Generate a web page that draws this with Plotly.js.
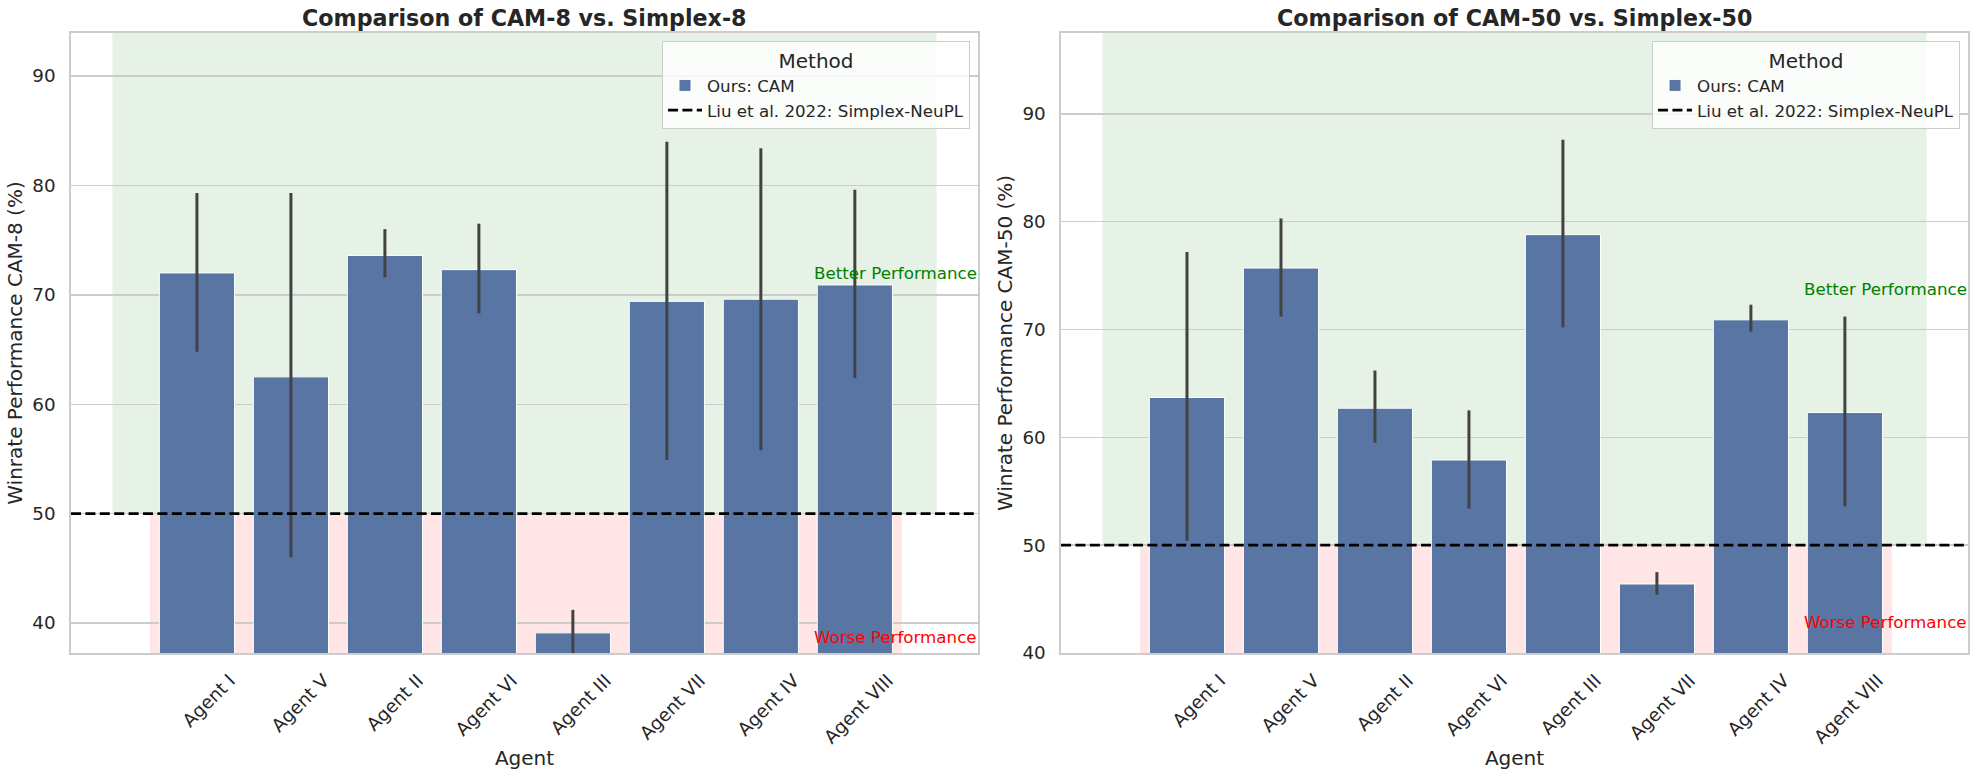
<!DOCTYPE html>
<html>
<head>
<meta charset="utf-8">
<script src="https://cdn.plot.ly/plotly-3.0.1.min.js"></script>
<style>
  html, body { margin: 0; padding: 0; background: #ffffff; }
  #chart { width: 1976px; height: 776px; }
</style>
</head>
<body>
<div id="chart"></div>
<script>
// ---------------- data ----------------
const agents = ['Agent I', 'Agent V', 'Agent II', 'Agent VI', 'Agent III', 'Agent VII', 'Agent IV', 'Agent VIII'];

const cam8      = [72.0, 62.5, 73.6, 72.3, 39.1, 69.4, 69.6, 70.9];
const cam8Low   = [64.8, 46.0, 71.6, 68.3, 37.0, 54.9, 55.8, 62.4];
const cam8High  = [79.3, 79.3, 76.0, 76.5, 41.2, 84.0, 83.4, 79.6];

const cam50     = [63.7, 75.7, 62.7, 57.9, 78.8, 46.4, 70.9, 62.3];
const cam50Low  = [50.4, 71.2, 59.5, 53.4, 70.2, 45.4, 69.8, 53.6];
const cam50High = [77.2, 80.3, 66.2, 62.5, 87.6, 47.5, 72.3, 71.2];

const simplexBaseline = 50;   // Liu et al. 2022: Simplex-NeuPL

const yTicks = [40, 50, 60, 70, 80, 90];

// ---------------- style ----------------
const FONT = 'DejaVu Sans';
const TXT = '#262626';
const GRID = '#cccccc';
const BAR = '#5875a4';
const ERR = '#424242';
const xRange = [-1.34, 8.31];
const yRange8 = [37.26, 93.93];
const yRange50 = [40, 97.5];
const greenX = [-0.9, 7.87];
const pinkX = [-0.5, 7.5];

const idx = agents.map((_, i) => i);

function barTrace(vals, lo, hi, xa, ya, leg) {
  return {
    type: 'bar', x: idx, y: vals, xaxis: xa, yaxis: ya, width: 0.8,
    name: 'Ours: CAM', legend: leg,
    marker: { color: BAR, line: { color: '#ffffff', width: 1 } },
    error_y: {
      type: 'data', symmetric: false,
      array: hi.map((h, i) => h - vals[i]),
      arrayminus: lo.map((l, i) => vals[i] - l),
      color: ERR, thickness: 3, width: 0
    },
    hoverinfo: 'x+y'
  };
}
function baseTrace(xa, ya, leg) {
  return {
    type: 'scatter', mode: 'lines', x: xRange, y: [simplexBaseline, simplexBaseline],
    xaxis: xa, yaxis: ya, name: 'Liu et al. 2022: Simplex-NeuPL', legend: leg,
    line: { color: '#000000', width: 2.8, dash: '10px,4.4px' }, cliponaxis: true
  };
}

const data = [
  barTrace(cam8, cam8Low, cam8High, 'x', 'y', 'legend'),
  baseTrace('x', 'y', 'legend'),
  barTrace(cam50, cam50Low, cam50High, 'x2', 'y2', 'legend2'),
  baseTrace('x2', 'y2', 'legend2')
];

function xAxis(domain, anchor) {
  return {
    domain: domain, anchor: anchor, range: xRange, type: 'linear',
    tickvals: idx, ticktext: agents, tickangle: -45,
    tickfont: { family: FONT, size: 18.3, color: TXT },
    ticklabelshift: 33, ticklabelstandoff: 8,
    showgrid: false, zeroline: false, showline: true, mirror: true,
    linecolor: GRID, linewidth: 1.7, ticks: '',
    title: { text: 'Agent', font: { family: FONT, size: 20, color: TXT }, standoff: 4 },
    automargin: false, fixedrange: true
  };
}
function yAxis(range, anchor, label) {
  return {
    anchor: anchor, domain: [0, 1], range: range, tickvals: yTicks,
    tickfont: { family: FONT, size: 18.3, color: TXT },
    ticklabelstandoff: 10,
    showgrid: true, gridcolor: GRID, gridwidth: 1.4, zeroline: false,
    showline: true, mirror: true, linecolor: GRID, linewidth: 1.7, ticks: '',
    title: { text: label, font: { family: FONT, size: 20, color: TXT }, standoff: 4 },
    automargin: false, fixedrange: true
  };
}

function regions(xref, yref, yr) {
  return [
    { type: 'rect', xref: xref, yref: yref, x0: greenX[0], x1: greenX[1], y0: simplexBaseline, y1: yr[1] + 5,
      fillcolor: 'rgba(0,128,0,0.1)', line: { width: 0 }, layer: 'below' },
    { type: 'rect', xref: xref, yref: yref, x0: pinkX[0], x1: pinkX[1], y0: yr[0] - 5, y1: simplexBaseline,
      fillcolor: 'rgba(255,0,0,0.1)', line: { width: 0 }, layer: 'below' }
  ];
}

function legendCfg(x) {
  return {
    x: x, y: 0.987, xref: 'paper', yref: 'paper', xanchor: 'right', yanchor: 'top',
    bgcolor: 'rgba(255,255,255,0.8)', bordercolor: GRID, borderwidth: 1,
    font: { family: FONT, size: 16.7, color: TXT },
    title: { text: 'Method', side: 'top center', font: { family: FONT, size: 20, color: TXT } },
    itemwidth: 34, traceorder: 'normal'
  };
}

const annotations = [
  { xref: 'x domain', yref: 'paper', x: 0.5, y: 1.024, yanchor: 'middle', showarrow: false,
    text: 'Comparison of CAM-8 vs. Simplex-8', font: { family: FONT, size: 22.2, color: TXT, weight: 'bold' } },
  { xref: 'x2 domain', yref: 'paper', x: 0.5, y: 1.024, yanchor: 'middle', showarrow: false,
    text: 'Comparison of CAM-50 vs. Simplex-50', font: { family: FONT, size: 22.2, color: TXT, weight: 'bold' } },
  { xref: 'x domain', yref: 'y', x: 1, y: (yRange8[1] + simplexBaseline) / 2, xanchor: 'right', yanchor: 'middle',
    showarrow: false, text: 'Better Performance', font: { family: FONT, size: 16.7, color: '#008000' }, borderpad: 0 },
  { xref: 'x2 domain', yref: 'y2', x: 1, y: (yRange50[1] + simplexBaseline) / 2, xanchor: 'right', yanchor: 'middle',
    showarrow: false, text: 'Better Performance', font: { family: FONT, size: 16.7, color: '#008000' }, borderpad: 0 },
  { xref: 'x domain', yref: 'y', x: 1, y: 38.75, xanchor: 'right', yanchor: 'middle',
    showarrow: false, text: 'Worse Performance', font: { family: FONT, size: 16.7, color: '#ff0000' }, borderpad: 0 },
  { xref: 'x2 domain', yref: 'y2', x: 1, y: 42.87, xanchor: 'right', yanchor: 'middle',
    showarrow: false, text: 'Worse Performance', font: { family: FONT, size: 16.7, color: '#ff0000' }, borderpad: 0 }
];

const layout = {
  width: 1976, height: 776,
  margin: { l: 71, r: 8, t: 33, b: 123, pad: 0 },
  paper_bgcolor: '#ffffff', plot_bgcolor: '#ffffff',
  font: { family: FONT, color: TXT },
  xaxis: xAxis([0, 0.4781], 'y'),
  yaxis: yAxis(yRange8, 'x', 'Winrate Performance CAM-8 (%)'),
  xaxis2: xAxis([0.5219, 1], 'y2'),
  yaxis2: yAxis(yRange50, 'x2', 'Winrate Performance CAM-50 (%)'),
  bargap: 0.2,
  shapes: regions('x', 'y', yRange8).concat(regions('x2', 'y2', yRange50)),
  annotations: annotations,
  legend: legendCfg(0.4739),
  legend2: legendCfg(0.9958),
  showlegend: true
};

Plotly.newPlot('chart', data, layout, { displayModeBar: false, staticPlot: true });
</script>
</body>
</html>
